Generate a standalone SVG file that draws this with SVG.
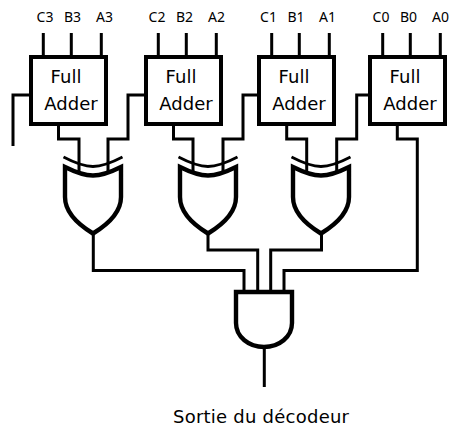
<svg xmlns="http://www.w3.org/2000/svg" width="460" height="438" viewBox="0 0 460 438">
<style>
text{font-family:"DejaVu Sans","Noto Sans",sans-serif;fill:#000}
.lbl{font-family:"Noto Sans","DejaVu Sans",sans-serif;font-size:14px;text-anchor:middle}
.fa{font-size:18px;text-anchor:middle}
.box{fill:#fff;stroke:#000;stroke-width:4}
.w{fill:none;stroke:#000;stroke-width:3}
.g{fill:#fff;stroke:#000;stroke-width:4.4}
.arc{fill:none;stroke:#000;stroke-width:2.8}
</style>
<defs>
<g id="xor">
<path class="arc" d="M63.5 157C75 163 84 166.500 93 166.500C102 166.500 111 163 122.500 157"/>
<path class="g" d="M65 167C75 172 84 175.500 93 175.500C102 175.500 111 172 121 167V197C121 213 107 225 93 233.500C79 225 65 213 65 197Z"/>
</g>
</defs>
<g id="connectors">
<path class="w" d="M43.3 33V55M71.3 33V55M101.3 33V55M158.3 33V55M186.3 33V55M216.3 33V55M271.7 33V55M299.3 33V55M329.3 33V55M382.7 33V55M410.3 33V55M440.3 33V55"/>
<path class="w" d="M29 95H13V146"/>
<path class="w" d="M58.5 126V139H79V172"/>
<path class="w" d="M144 95H128V139H108V172"/>
<path class="w" d="M173.5 126V139H193V172"/>
<path class="w" d="M257 95H243V139H223V172"/>
<path class="w" d="M286.7 126V139H306.7V172"/>
<path class="w" d="M368 95H356.7V139H336.7V172"/>
<path class="w" d="M397.3 126V139H417.3V270.5H284V292"/>
<path class="w" d="M93.3 233V270.5H244V292"/>
<path class="w" d="M208 233V250H257.7V292"/>
<path class="w" d="M321.5 233V250H270.7V292"/>
<path class="w" d="M264.3 347V387"/>
</g>
<g id="adder3"><rect class="box" x="31" y="57" width="75" height="67"/><text class="fa" x="66" y="83">Full</text><text class="fa" x="71" y="110">Adder</text></g>
<g id="adder2"><rect class="box" x="146" y="57" width="75" height="67"/><text class="fa" x="181" y="83">Full</text><text class="fa" x="186" y="110">Adder</text></g>
<g id="adder1"><rect class="box" x="259" y="57" width="75" height="67"/><text class="fa" x="294" y="83">Full</text><text class="fa" x="299" y="110">Adder</text></g>
<g id="adder0"><rect class="box" x="370" y="57" width="75" height="67"/><text class="fa" x="405" y="83">Full</text><text class="fa" x="410" y="110">Adder</text></g>
<g id="xor3"><use href="#xor"/></g>
<g id="xor2"><use href="#xor" x="115"/></g>
<g id="xor1"><use href="#xor" x="228"/></g>
<g id="and"><path class="g" d="M236 292H292V323C292 337 279 347 264 347C249 347 236 337 236 323Z"/></g>
<g id="labels">
<text class="lbl" x="45" y="22">C3</text><text class="lbl" x="72.5" y="22">B3</text><text class="lbl" x="104.5" y="22">A3</text>
<text class="lbl" x="157" y="22">C2</text><text class="lbl" x="184.5" y="22">B2</text><text class="lbl" x="216.5" y="22">A2</text>
<text class="lbl" x="268.500" y="22">C1</text><text class="lbl" x="296" y="22">B1</text><text class="lbl" x="327.5" y="22">A1</text>
<text class="lbl" x="381" y="22">C0</text><text class="lbl" x="408.5" y="22">B0</text><text class="lbl" x="440.5" y="22">A0</text>
<text x="173" y="422.5" font-size="18" textLength="176">Sortie du décodeur</text>
</g>
</svg>
